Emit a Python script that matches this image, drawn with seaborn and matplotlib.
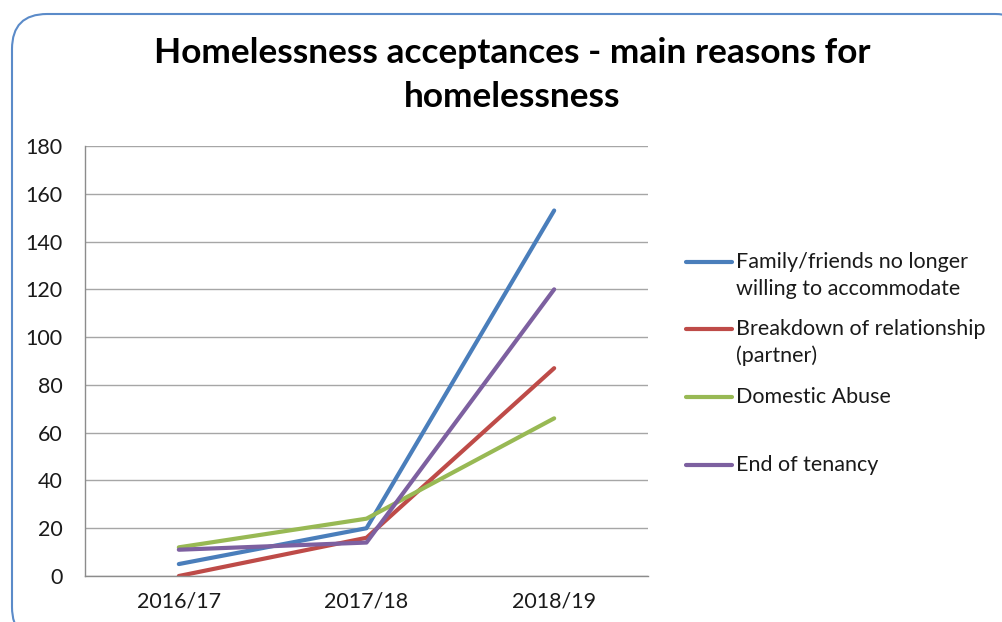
import numpy as np
import pandas as pd
import seaborn as sns
import matplotlib.pyplot as plt
from matplotlib.patches import FancyBboxPatch
from matplotlib.lines import Line2D

# Homelessness acceptances by main reason, per financial year
years = ["2016/17", "2017/18", "2018/19"]
family_friends = [5, 20, 153]
relationship_breakdown = [0, 16, 87]
domestic_abuse = [12, 24, 66]
end_of_tenancy = [11, 14, 120]

series_names = [
    "Family/friends no longer\nwilling to accommodate",
    "Breakdown of relationship\n(partner)",
    "Domestic Abuse",
    "End of tenancy",
]
series_values = [family_friends, relationship_breakdown, domestic_abuse, end_of_tenancy]
colors = ["#4A7EBB", "#BE4B48", "#98B954", "#7D60A0"]
y_ticks = list(range(0, 181, 20))
title = "Homelessness acceptances - main reasons for\nhomelessness"

sns.set_theme(style="white")
plt.rcParams["font.family"] = ["Lato", "DejaVu Sans"]

df = pd.DataFrame(
    [(name, yr, v) for name, vals in zip(series_names, series_values)
     for yr, v in zip(years, vals)],
    columns=["reason", "year", "value"],
)

W, H = 1002, 622
fig = plt.figure(figsize=(W / 100, H / 100), dpi=100)
fig.patch.set_facecolor("white")

# rounded chart frame
frame = FancyBboxPatch((12 / W, -20 / H), (1030 - 12) / W, (622 - 14 + 20) / H,
                       boxstyle="round,pad=0,rounding_size=0.035",
                       transform=fig.transFigure, facecolor="white",
                       edgecolor="#5B8BC9", linewidth=1.5, zorder=-5,
                       mutation_aspect=W / H)
fig.patches.append(frame)

ax = fig.add_axes([85 / W, 1 - 576 / H, (648 - 85) / W, (576 - 146) / H])
ax.set_facecolor("none")
ax.set_zorder(2)

sns.lineplot(data=df, x="year", y="value", hue="reason", hue_order=series_names,
             palette=colors, linewidth=3, ax=ax, legend=False, sort=False,
             solid_capstyle="round")

ax.set_xlim(-0.5, len(years) - 0.5)
ax.set_ylim(0, 180)
ax.set_yticks(y_ticks)
ax.set_xticks(range(len(years)))
ax.set_xticklabels(years)
ax.set_xlabel("")
ax.set_ylabel("")
ax.tick_params(axis="y", length=0, pad=16, labelsize=15.5, labelcolor="#1a1a1a")
ax.tick_params(axis="x", length=0, pad=11, labelsize=15.5, labelcolor="#1a1a1a")
ax.yaxis.grid(True, color="#A6A6A6", linewidth=1)
ax.xaxis.grid(False)
ax.set_axisbelow(True)
for side in ["top", "right"]:
    ax.spines[side].set_visible(False)
for side in ["left", "bottom"]:
    ax.spines[side].set_color("#8C8C8C")
    ax.spines[side].set_linewidth(1)

fig.text(512 / W, 1 - 75 / H, title, ha="center", va="center",
         fontsize=25.4, fontweight="bold", color="black", linespacing=1.43)

# legend entries
entry_y = [262, 329, 397, 465]
for name, color, y0 in zip(series_names, colors, entry_y):
    fig.add_artist(Line2D([686 / W, 732 / W], [1 - y0 / H, 1 - y0 / H],
                          transform=fig.transFigure, color=color, linewidth=3))
    for k, line in enumerate(name.split("\n")):
        fig.text(736 / W, 1 - (y0 + 27 * k) / H, line, ha="left", va="center",
                 fontsize=15.5, color="#1a1a1a")

fig.savefig("out.png", dpi=100)
